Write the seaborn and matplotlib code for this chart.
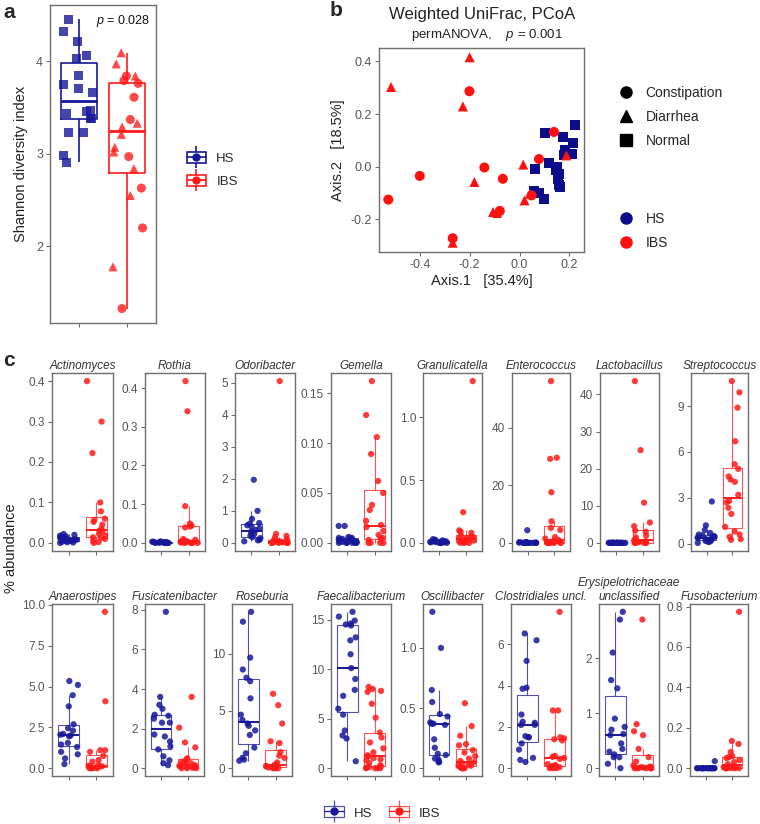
import numpy as np
import pandas as pd
import matplotlib.pyplot as plt
import seaborn as sns
from matplotlib.lines import Line2D
from matplotlib.patches import Rectangle
from matplotlib.legend_handler import HandlerTuple


GROUPS = ['HS', 'IBS']
PALETTE = {'HS': '#17179a', 'IBS': '#ff1a1a'}

# panel a: Shannon diversity
shannon_hs = [4.45, 4.32, 4.21, 4.06, 4.03, 3.84, 3.75, 3.71, 3.66, 3.47, 3.46, 3.44,
              3.38, 3.38, 3.23, 3.23, 2.98, 2.91]
shannon_ibs_diarrhea = [4.09, 3.97, 3.84, 3.33, 3.29, 3.21, 3.07, 3.02, 2.84, 2.55, 1.78]
shannon_ibs_constipation = [3.84, 3.79, 3.76, 3.61, 3.37, 2.97, 2.63, 2.2, 1.33]

# panel b: weighted UniFrac PCoA
pcoa_hs_x = [0.221, 0.101, 0.173, 0.215, 0.181, 0.212, 0.178, 0.118, 0.149, 0.145,
             0.158, 0.156, 0.062, 0.162, 0.158, 0.058, 0.078, 0.098]
pcoa_hs_y = [0.159, 0.129, 0.113, 0.090, 0.065, 0.047, 0.043, 0.015, -0.001, -0.014,
             -0.027, -0.046, -0.008, -0.077, -0.071, -0.092, -0.100, -0.122]
pcoa_diarrhea_x = [-0.200, -0.515, -0.227, 0.015, -0.181, 0.188, 0.042, 0.020, -0.106,
                   -0.090, -0.268]
pcoa_diarrhea_y = [0.416, 0.303, 0.229, 0.008, -0.058, 0.043, -0.103, -0.128, -0.172,
                   -0.176, -0.289]
pcoa_constipation_x = [-0.201, 0.138, 0.078, -0.141, -0.067, -0.400, -0.526, -0.079,
                       -0.268, 0.048]
pcoa_constipation_y = [0.287, 0.132, 0.029, -0.003, -0.046, -0.035, -0.125, -0.168,
                       -0.272, -0.109]
SHAPES = ['Constipation', 'Diarrhea', 'Normal']
SHAPE_MARKERS = {'Constipation': 'o', 'Diarrhea': '^', 'Normal': 's'}

# panel c: % abundance per genus
actinomyces_hs = [0.022, 0.02, 0.018, 0.016, 0.015, 0.013, 0.012, 0.01, 0.009, 0.008,
                  0.007, 0.006, 0.005, 0.004, 0.003, 0.002, 0.001, 0.0]
actinomyces_ibs = [0.4, 0.3, 0.222, 0.1, 0.078, 0.06, 0.057, 0.052, 0.045, 0.035, 0.03,
                   0.028, 0.022, 0.018, 0.014, 0.012, 0.01, 0.005, 0.002, 0.0]
rothia_hs = [0.004, 0.003, 0.003, 0.002, 0.002, 0.002, 0.001, 0.001, 0.001, 0.001,
             0.0, 0.0, 0.0, 0.0, 0.0, 0.0, 0.0, 0.0]
rothia_ibs = [0.418, 0.34, 0.095, 0.05, 0.045, 0.042, 0.04, 0.01, 0.008, 0.006, 0.004,
              0.003, 0.002, 0.001, 0.001, 0.0, 0.0, 0.0, 0.0, 0.0]
odoribacter_hs = [1.97, 1.0, 0.75, 0.62, 0.6, 0.55, 0.5, 0.45, 0.4, 0.35, 0.3, 0.28,
                  0.22, 0.18, 0.15, 0.1, 0.08, 0.05]
odoribacter_ibs = [5.05, 0.28, 0.22, 0.18, 0.12, 0.08, 0.06, 0.05, 0.04, 0.03, 0.03,
                   0.02, 0.02, 0.01, 0.01, 0.0, 0.0, 0.0, 0.0, 0.0]
gemella_hs = [0.017, 0.017, 0.006, 0.005, 0.005, 0.005, 0.004, 0.003, 0.003, 0.002,
              0.001, 0.001, 0.0, 0.0, 0.0, 0.0, 0.0, 0.0]
gemella_ibs = [0.162, 0.128, 0.106, 0.089, 0.062, 0.05, 0.038, 0.033, 0.022, 0.018,
               0.016, 0.012, 0.008, 0.005, 0.004, 0.003, 0.0, 0.0, 0.0, 0.0]
granulicatella_hs = [0.03, 0.025, 0.02, 0.02, 0.015, 0.012, 0.01, 0.01, 0.008, 0.006,
                     0.005, 0.004, 0.003, 0.002, 0.001, 0.0, 0.0, 0.0]
granulicatella_ibs = [1.29, 0.245, 0.1, 0.09, 0.08, 0.06, 0.05, 0.045, 0.04, 0.035, 0.03,
                      0.025, 0.02, 0.015, 0.01, 0.008, 0.005, 0.002, 0.0, 0.0]
enterococcus_hs = [4.4, 0.3, 0.25, 0.2, 0.15, 0.1, 0.1, 0.08, 0.05, 0.05, 0.03, 0.02,
                   0.01, 0.01, 0.0, 0.0, 0.0, 0.0]
enterococcus_ibs = [56.2, 29.6, 29.2, 17.6, 7.5, 5.2, 4.5, 2.0, 1.5, 1.0, 0.8, 0.5, 0.3,
                    0.2, 0.1, 0.05, 0.0, 0.0, 0.0, 0.0]
lactobacillus_hs = [0.1, 0.08, 0.06, 0.05, 0.04, 0.03, 0.02, 0.02, 0.01, 0.01, 0.01,
                    0.0, 0.0, 0.0, 0.0, 0.0, 0.0, 0.0]
lactobacillus_ibs = [43.6, 25.0, 10.85, 5.5, 4.5, 3.3, 3.0, 2.0, 1.5, 1.0, 0.6, 0.5, 0.3,
                     0.2, 0.1, 0.1, 0.05, 0.0, 0.0, 0.0]
streptococcus_hs = [2.76, 1.2, 0.9, 0.7, 0.6, 0.55, 0.5, 0.45, 0.42, 0.38, 0.35, 0.3,
                    0.25, 0.2, 0.18, 0.15, 0.1, 0.05]
streptococcus_ibs = [10.64, 9.9, 8.9, 6.7, 5.2, 4.9, 4.4, 4.2, 4.05, 3.2, 2.8, 2.7, 2.35,
                     1.95, 1.1, 0.8, 0.6, 0.45, 0.3, 0.25]
anaerostipes_hs = [5.34, 5.1, 4.47, 3.79, 2.69, 2.45, 2.3, 2.1, 2.05, 2.0, 1.95, 1.55,
                   1.45, 1.3, 1.0, 0.85, 0.6, 0.25]
anaerostipes_ibs = [9.58, 4.1, 1.1, 1.1, 1.0, 0.75, 0.5, 0.4, 0.2, 0.15, 0.12, 0.1, 0.1,
                    0.05, 0.05, 0.03, 0.0, 0.0, 0.0, 0.0]
fusicatenibacter_hs = [7.9, 3.6, 3.2, 3.0, 2.7, 2.65, 2.5, 2.3, 2.3, 1.7, 1.6, 1.35, 1.1,
                       0.95, 0.6, 0.4, 0.25, 0.15]
fusicatenibacter_ibs = [3.6, 2.05, 1.3, 1.05, 0.5, 0.45, 0.35, 0.3, 0.25, 0.2, 0.15,
                        0.12, 0.1, 0.1, 0.05, 0.05, 0.02, 0.0, 0.0, 0.0]
roseburia_hs = [13.66, 12.8, 9.66, 8.62, 7.9, 7.6, 6.1, 4.67, 4.2, 3.9, 3.7, 3.3, 2.9,
                1.8, 1.3, 0.9, 0.75, 0.65]
roseburia_ibs = [6.5, 5.5, 3.9, 2.35, 2.2, 1.4, 1.1, 0.9, 0.5, 0.3, 0.3, 0.2, 0.15, 0.1,
                 0.1, 0.05, 0.02, 0.0, 0.0, 0.0]
faecalibacterium_hs = [15.78, 15.3, 14.9, 14.6, 14.5, 14.4, 13.2, 12.9, 11.5, 10.1, 9.0,
                       7.9, 7.3, 6.0, 5.4, 3.8, 3.3, 3.0, 0.7]
faecalibacterium_ibs = [8.2, 8.0, 7.8, 7.7, 6.5, 5.1, 3.6, 3.1, 2.6, 2.0, 1.6, 1.3, 1.2,
                        1.0, 0.9, 0.8, 0.5, 0.3, 0.2, 0.1, 0.05, 0.0, 0.0, 0.0, 0.0]
oscillibacter_hs = [1.3, 1.0, 0.65, 0.55, 0.45, 0.43, 0.38, 0.37, 0.37, 0.36, 0.24, 0.17,
                    0.12, 0.11, 0.08, 0.07, 0.05, 0.05]
oscillibacter_ibs = [0.54, 0.35, 0.27, 0.2, 0.19, 0.15, 0.13, 0.1, 0.08, 0.06, 0.05,
                     0.04, 0.03, 0.02, 0.02, 0.01, 0.0, 0.0, 0.0, 0.0]
clostridiales_hs = [6.53, 6.2, 5.2, 3.9, 3.85, 2.6, 2.25, 2.2, 2.1, 2.1, 1.55, 1.5, 1.5,
                    1.2, 0.9, 0.5, 0.4, 0.3]
clostridiales_ibs = [7.58, 2.8, 2.8, 1.5, 1.45, 1.4, 1.35, 0.6, 0.55, 0.5, 0.45, 0.2,
                     0.15, 0.1, 0.1, 0.05, 0.05, 0.0, 0.0, 0.0]
erysipelotrichaceae_hs = [2.84, 2.7, 2.1, 1.6, 1.45, 0.9, 0.75, 0.7, 0.62, 0.6, 0.45,
                          0.35, 0.3, 0.25, 0.2, 0.2, 0.08, 0.0]
erysipelotrichaceae_ibs = [2.7, 0.8, 0.67, 0.6, 0.35, 0.2, 0.12, 0.05, 0.03, 0.02, 0.02,
                           0.01, 0.01, 0.0, 0.0, 0.0, 0.0, 0.0, 0.0, 0.0]
fusobacterium_hs = [0.035] + [0.0] * 17
fusobacterium_ibs = [0.774, 0.135, 0.12, 0.08, 0.06, 0.055, 0.05, 0.04, 0.03, 0.02, 0.01,
                     0.008, 0.005, 0.003, 0.0, 0.0, 0.0, 0.0, 0.0, 0.0]

TOP_TAXA = [
    ('Actinomyces', actinomyces_hs, actinomyces_ibs, ['0.0', '0.1', '0.2', '0.3', '0.4']),
    ('Rothia', rothia_hs, rothia_ibs, ['0.0', '0.1', '0.2', '0.3', '0.4']),
    ('Odoribacter', odoribacter_hs, odoribacter_ibs, ['0', '1', '2', '3', '4', '5']),
    ('Gemella', gemella_hs, gemella_ibs, ['0.00', '0.05', '0.10', '0.15']),
    ('Granulicatella', granulicatella_hs, granulicatella_ibs, ['0.0', '0.5', '1.0']),
    ('Enterococcus', enterococcus_hs, enterococcus_ibs, ['0', '20', '40']),
    ('Lactobacillus', lactobacillus_hs, lactobacillus_ibs, ['0', '10', '20', '30', '40']),
    ('Streptococcus', streptococcus_hs, streptococcus_ibs, ['0', '3', '6', '9']),
]
BOTTOM_TAXA = [
    ('Anaerostipes', anaerostipes_hs, anaerostipes_ibs, ['0.0', '2.5', '5.0', '7.5', '10.0']),
    ('Fusicatenibacter', fusicatenibacter_hs, fusicatenibacter_ibs, ['0', '2', '4', '6', '8']),
    ('Roseburia', roseburia_hs, roseburia_ibs, ['0', '5', '10']),
    ('Faecalibacterium', faecalibacterium_hs, faecalibacterium_ibs, ['0', '5', '10', '15']),
    ('Oscillibacter', oscillibacter_hs, oscillibacter_ibs, ['0.0', '0.5', '1.0']),
    ('Clostridiales uncl.', clostridiales_hs, clostridiales_ibs, ['0', '2', '4', '6']),
    ('Erysipelotrichaceae\nunclassified', erysipelotrichaceae_hs, erysipelotrichaceae_ibs,
     ['0', '1', '2']),
    ('Fusobacterium', fusobacterium_hs, fusobacterium_ibs, ['0.0', '0.2', '0.4', '0.6', '0.8']),
]

# layout in pixels (left, right)
TOP_COLS = [(52, 113), (145, 205), (235, 295), (331, 391), (423, 482), (512, 570),
            (600, 659), (691, 748)]
BOTTOM_COLS = [(52, 113), (145, 204), (232, 292), (331, 391), (423, 482), (511, 571),
               (599, 659), (690, 748)]

W, H = 760, 824
EDGE = '#6e6e6e'
TICK_TEXT = '#555555'


def init_plotting():
    sns.set_style('ticks')
    plt.rcParams['font.family'] = ['Liberation Sans', 'DejaVu Sans']
    plt.rcParams['mathtext.fontset'] = 'custom'
    plt.rcParams['mathtext.it'] = 'Liberation Sans:italic'
    plt.rcParams['mathtext.rm'] = 'Liberation Sans'
    plt.rcParams['axes.unicode_minus'] = False


def add_ax(fig, left, top, right, bottom):
    return fig.add_axes([left / W, 1 - bottom / H, (right - left) / W, (bottom - top) / H])


def style_ax(ax, tick_size):
    for s in ax.spines.values():
        s.set_visible(True)
        s.set_color(EDGE)
        s.set_linewidth(1.0)
    ax.tick_params(colors=EDGE, labelcolor=TICK_TEXT, labelsize=tick_size,
                   length=3, width=0.8, pad=2)


def box_key(color, lw=1.2, alpha=1.0):
    whisker = Line2D([], [], color=color, marker='|', markersize=16, mew=lw,
                     linestyle='none', alpha=alpha)
    box = Rectangle((0, 0), 1, 1, facecolor='white', edgecolor=color, linewidth=lw,
                    alpha=alpha)
    median = Line2D([], [], color=color, marker='o', markersize=5, linewidth=lw)
    return (whisker, box, median)


def group_frame(hs, ibs, name='value'):
    return pd.DataFrame({'group': ['HS'] * len(hs) + ['IBS'] * len(ibs),
                         name: list(hs) + list(ibs)})


def plot_shannon(fig):
    ax = add_ax(fig, 50, 5, 156, 323)
    df = group_frame(shannon_hs, shannon_ibs_diarrhea + shannon_ibs_constipation, 'shannon')
    sns.boxplot(data=df, x='group', y='shannon', hue='group', order=GROUPS,
                palette=PALETTE, fill=False, width=0.75, showfliers=False,
                showcaps=False, linewidth=1.2, medianprops=dict(linewidth=2.0),
                legend=False, ax=ax)
    parts = [
        ('s', group_frame(shannon_hs, [], 'shannon')),
        ('^', group_frame([], shannon_ibs_diarrhea, 'shannon')),
        ('o', group_frame([], shannon_ibs_constipation, 'shannon')),
    ]
    for marker, sub in parts:
        sns.stripplot(data=sub, x='group', y='shannon', hue='group', order=GROUPS,
                      palette=PALETTE, marker=marker, size=6.5, jitter=0.33,
                      alpha=0.8, linewidth=0, legend=False, ax=ax)
    ax.set_xlim(-0.6, 1.6)
    ax.set_yticks([2, 3, 4])
    ax.set_yticklabels(['2', '3', '4'])
    ax.set_xticks([0, 1])
    ax.set_xticklabels(['', ''])
    ax.set_xlabel('')
    ax.set_ylabel('Shannon diversity index', fontsize=10.5, color='#222222', labelpad=6)
    style_ax(ax, 9)
    ax.text(0.945, 0.975, r'$p$ = 0.028', transform=ax.transAxes, ha='right', va='top',
            fontsize=9, color='#111111')
    fig.legend(handles=[box_key(PALETTE[g]) for g in GROUPS], labels=GROUPS,
               handler_map={tuple: HandlerTuple(ndivide=1)}, loc='upper left',
               bbox_to_anchor=(180 / W, 1 - 145 / H), frameon=False, fontsize=9.5,
               handlelength=1.5, handleheight=0.9, labelspacing=0.8,
               handletextpad=0.75, borderpad=0)


def plot_pcoa(fig):
    ax = add_ax(fig, 379, 48, 584, 252)
    df = pd.DataFrame({
        'axis1': pcoa_hs_x + pcoa_constipation_x + pcoa_diarrhea_x,
        'axis2': pcoa_hs_y + pcoa_constipation_y + pcoa_diarrhea_y,
        'group': ['HS'] * len(pcoa_hs_x) + ['IBS'] * (len(pcoa_constipation_x) + len(pcoa_diarrhea_x)),
        'shape': ['Normal'] * len(pcoa_hs_x) + ['Constipation'] * len(pcoa_constipation_x)
                 + ['Diarrhea'] * len(pcoa_diarrhea_x),
    })
    sns.scatterplot(data=df, x='axis1', y='axis2', hue='group', style='shape',
                    markers=SHAPE_MARKERS, palette={'HS': '#0d0d8c', 'IBS': '#ff1010'},
                    s=52, linewidth=0, legend=False, ax=ax)
    ax.set_xticks([-0.4, -0.2, 0.0, 0.2])
    ax.set_xticklabels(['-0.4', '-0.2', '0.0', '0.2'])
    ax.set_yticks([-0.2, 0.0, 0.2, 0.4])
    ax.set_yticklabels(['-0.2', '0.0', '0.2', '0.4'])
    ax.set_xlabel('Axis.1   [35.4%]', fontsize=10.5, color='#222222', labelpad=2)
    ax.set_ylabel('Axis.2   [18.5%]', fontsize=10.5, color='#222222', labelpad=4)
    style_ax(ax, 9)
    fig.text(482 / W, 1 - 14 / H, 'Weighted UniFrac, PCoA', ha='center', va='center',
             fontsize=12, color='#222222')
    fig.text(487 / W, 1 - 35 / H, r'permANOVA,    $p$ = 0.001', ha='center', va='center',
             fontsize=9.5, color='#222222')
    shape_handles = [Line2D([], [], marker=SHAPE_MARKERS[s], color='black', linestyle='none',
                            markersize=8) for s in SHAPES]
    fig.legend(handles=shape_handles, labels=SHAPES, loc='upper left',
               bbox_to_anchor=(611 / W, 1 - 79 / H), frameon=False, fontsize=10,
               handlelength=1.2, labelspacing=0.73, handletextpad=0.8, borderpad=0)
    color_handles = [Line2D([], [], marker='o', color=c, linestyle='none', markersize=8)
                     for c in ['#0d0d8c', '#ff1010']]
    fig.legend(handles=color_handles, labels=GROUPS, loc='upper left',
               bbox_to_anchor=(611 / W, 1 - 205 / H), frameon=False, fontsize=10,
               handlelength=1.2, labelspacing=0.73, handletextpad=0.8, borderpad=0)


def plot_taxon(ax, name, hs, ibs, ticks):
    df = group_frame(hs, ibs)
    sns.boxplot(data=df, x='group', y='value', hue='group', order=GROUPS,
                palette=PALETTE, fill=False, width=0.75, showfliers=False,
                showcaps=False, linewidth=0.8,
                boxprops=dict(alpha=0.75), whiskerprops=dict(alpha=0.75),
                medianprops=dict(linewidth=1.4), legend=False, ax=ax)
    sns.stripplot(data=df, x='group', y='value', hue='group', order=GROUPS,
                  palette=PALETTE, size=4.5, jitter=0.35, alpha=0.85, linewidth=0,
                  legend=False, ax=ax)
    ax.set_xlim(-0.6, 1.6)
    ax.set_yticks([float(t) for t in ticks])
    ax.set_yticklabels(ticks)
    ax.set_xticks([0, 1])
    ax.set_xticklabels(['', ''])
    ax.set_xlabel('')
    ax.set_ylabel('')
    ax.set_title(name, fontsize=8.5, style='italic', pad=3, color='#333333')
    style_ax(ax, 8.5)


def plot_abundance(fig):
    for (name, hs, ibs, ticks), (left, right) in zip(TOP_TAXA, TOP_COLS):
        plot_taxon(add_ax(fig, left, 373, right, 551), name, hs, ibs, ticks)
    for (name, hs, ibs, ticks), (left, right) in zip(BOTTOM_TAXA, BOTTOM_COLS):
        plot_taxon(add_ax(fig, left, 604, right, 776), name, hs, ibs, ticks)
    fig.text(11 / W, 1 - 548 / H, '% abundance', rotation=90, ha='center', va='center',
             fontsize=10.5, color='#222222')
    fig.legend(handles=[box_key(PALETTE[g], lw=0.9, alpha=0.75) for g in GROUPS],
               labels=GROUPS, handler_map={tuple: HandlerTuple(ndivide=1)},
               loc='center', bbox_to_anchor=(382 / W, 1 - 813 / H), ncol=2,
               frameon=False, fontsize=9.5, handlelength=1.5, handleheight=0.9,
               handletextpad=0.75, columnspacing=1.3, borderpad=0)


if __name__ == '__main__':
    init_plotting()
    np.random.seed(11)
    fig = plt.figure(figsize=(W / 100, H / 100), dpi=100)
    plot_shannon(fig)
    plot_pcoa(fig)
    plot_abundance(fig)
    for label, x, y in [('a', 3, 12), ('b', 330, 10), ('c', 3, 361)]:
        fig.text(x / W, 1 - y / H, label, fontsize=15, fontweight='bold', va='center',
                 ha='left')
    fig.savefig('out.png', dpi=100)
